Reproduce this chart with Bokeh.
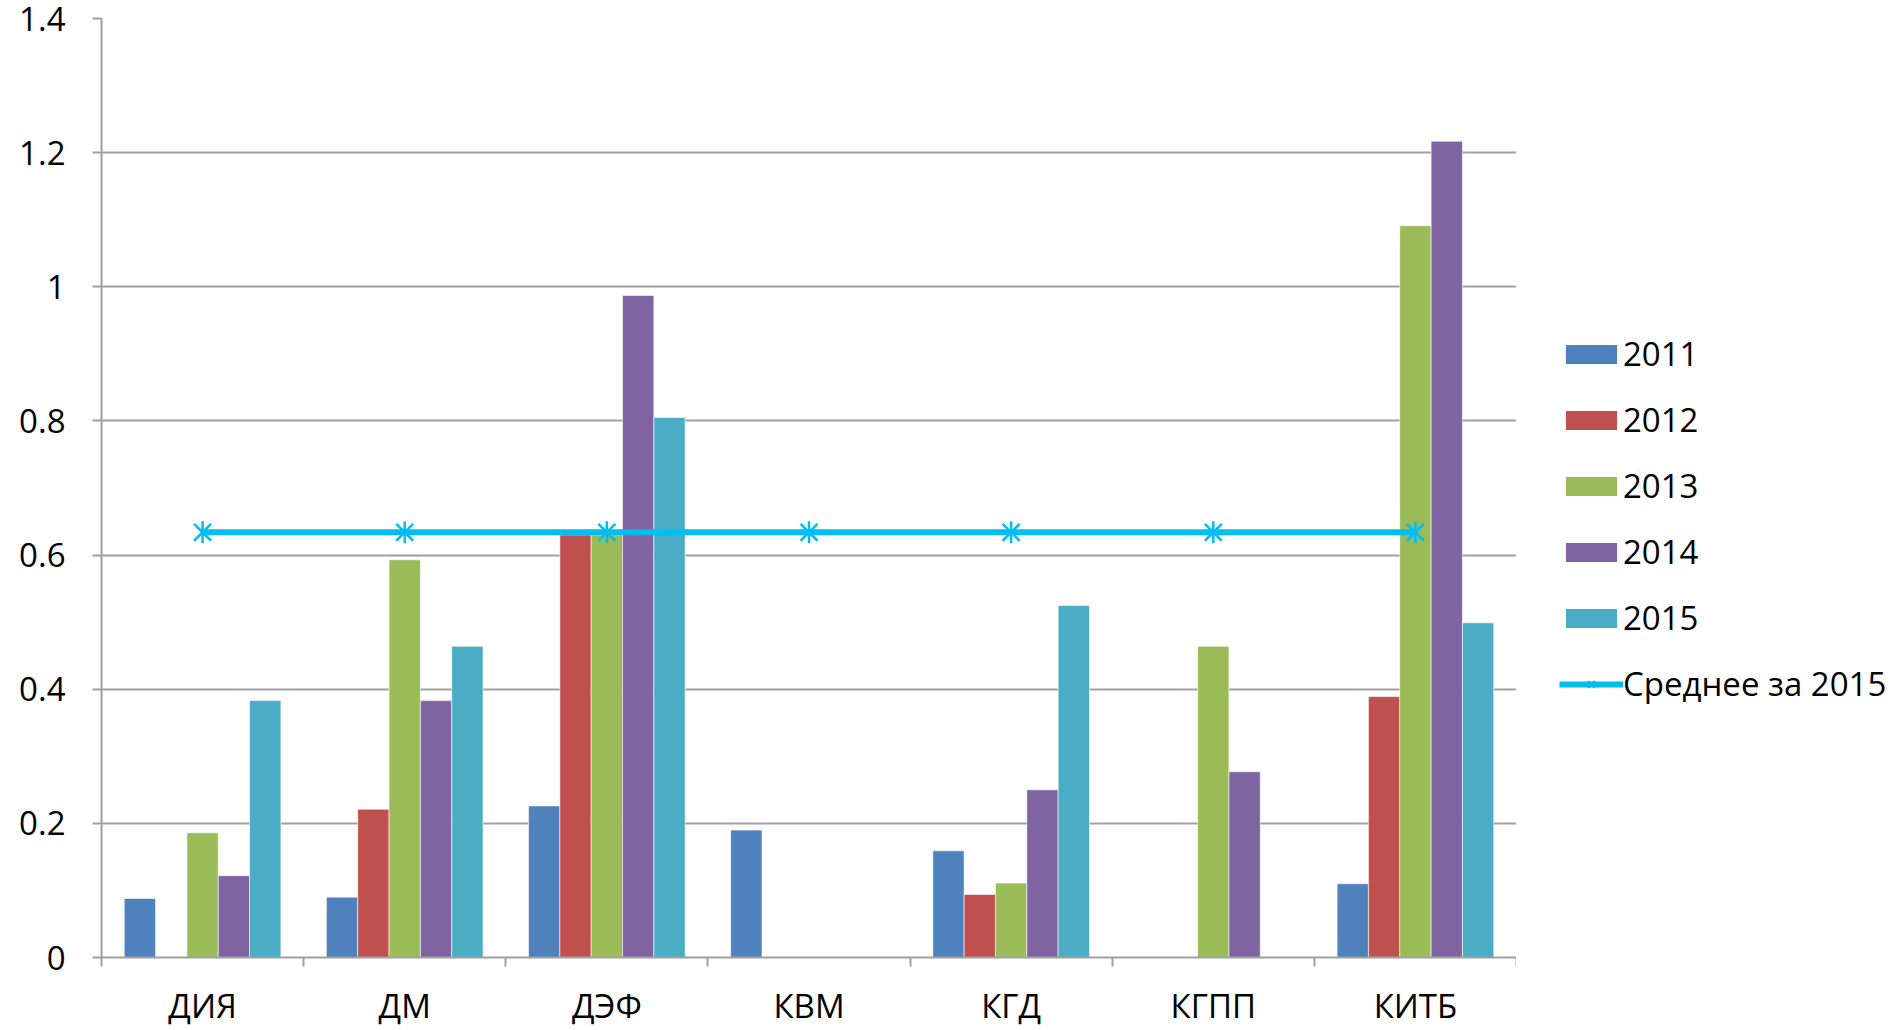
from bokeh.plotting import figure
from bokeh.layouts import row
from bokeh.models import (Range1d, FixedTicker, Legend, LegendItem, ColumnDataSource)
from bokeh.embed import file_html
from bokeh.resources import INLINE

categories = ["ДИЯ", "ДМ", "ДЭФ", "КВМ", "КГД", "КГПП", "КИТБ"]
years = ["2011", "2012", "2013", "2014", "2015"]
v2011 = [0.088, 0.090, 0.226, 0.190, 0.159, 0.0, 0.110]
v2012 = [0.0, 0.221, 0.630, 0.0, 0.094, 0.0, 0.389]
v2013 = [0.186, 0.593, 0.630, 0.0, 0.111, 0.464, 1.091]
v2014 = [0.122, 0.383, 0.987, 0.0, 0.250, 0.277, 1.217]
v2015 = [0.383, 0.464, 0.805, 0.0, 0.525, 0.0, 0.499]
average_2015 = [0.634] * len(categories)
avg_label = "Среднее за 2015"
y_ticks = [0, 0.2, 0.4, 0.6, 0.8, 1.0, 1.2, 1.4]
y_tick_labels = ["0", "0.2", "0.4", "0.6", "0.8", "1", "1.2", "1.4"]

series = [v2011, v2012, v2013, v2014, v2015]
colors = ["#4F81BD", "#C0504D", "#9BBB59", "#8064A2", "#4BACC6"]
line_color = "#00BEF0"
grid_color = "#A0A0A0"
FONT = "Open Sans"
FS = "33px"

p = figure(width=1516, height=1030, output_backend="svg", toolbar_location=None,
           x_range=Range1d(-0.5, len(categories) - 0.5), y_range=Range1d(0, 1.4),
           min_border_left=101, min_border_top=18, min_border_bottom=70, min_border_right=0)
p.outline_line_color = None
p.background_fill_color = "white"

bar_w = 0.155
idx = list(range(len(categories)))
bar_renderers = []
for k, (vals, col) in enumerate(zip(series, colors)):
    xs = [i + (k - 2) * bar_w for i in idx]
    src = ColumnDataSource(dict(x=xs, top=vals))
    r = p.vbar(x="x", top="top", bottom=0, width=bar_w, source=src,
               fill_color=col, line_color="white", line_width=0.6)
    bar_renderers.append(r)

lsrc = ColumnDataSource(dict(x=idx, y=average_2015))
p.line("x", "y", source=lsrc, line_color=line_color, line_width=6)
p.scatter("x", "y", source=lsrc, marker="x", size=24, line_color=line_color, line_width=2.5)
p.scatter("x", "y", source=lsrc, marker="dash", angle=1.5708, size=22,
          line_color=line_color, line_width=2.5)

# grid
p.xgrid.grid_line_color = None
p.ygrid.ticker = FixedTicker(ticks=y_ticks)
p.ygrid.grid_line_color = grid_color
p.ygrid.grid_line_width = 2

# y axis
p.yaxis.ticker = FixedTicker(ticks=y_ticks)
p.yaxis.major_label_overrides = {t: l for t, l in zip(y_ticks, y_tick_labels)}
p.yaxis.axis_line_color = grid_color
p.yaxis.axis_line_width = 2
p.yaxis.major_tick_line_color = grid_color
p.yaxis.major_tick_line_width = 2
p.yaxis.major_tick_out = 9
p.yaxis.major_tick_in = 0
p.yaxis.minor_tick_line_color = None
p.yaxis.major_label_text_font = FONT
p.yaxis.major_label_text_font_size = FS
p.yaxis.major_label_text_color = "black"
p.yaxis.major_label_standoff = 27

# x axis: labels at category centres, ticks at category boundaries
bounds = [i - 0.5 for i in range(len(categories) + 1)]
p.xaxis.ticker = FixedTicker(ticks=idx, minor_ticks=bounds)
p.xaxis.major_label_overrides = {i: c for i, c in enumerate(categories)}
p.xaxis.axis_line_color = grid_color
p.xaxis.axis_line_width = 2
p.xaxis.major_tick_line_color = None
p.xaxis.major_tick_out = 0
p.xaxis.major_tick_in = 0
p.xaxis.minor_tick_line_color = grid_color
p.xaxis.minor_tick_line_width = 2
p.xaxis.minor_tick_out = 9
p.xaxis.minor_tick_in = 0
p.xaxis.major_label_text_font = FONT
p.xaxis.major_label_text_font_size = FS
p.xaxis.major_label_text_color = "black"
p.xaxis.major_label_standoff = 16

# legend panel (separate figure to the right of the plot area)
q = figure(width=379, height=1030, output_backend="svg", toolbar_location=None,
           x_range=Range1d(0, 1), y_range=Range1d(0, 1),
           min_border_left=0, min_border_right=0, min_border_top=0, min_border_bottom=0)
q.axis.visible = False
q.grid.visible = False
q.outline_line_color = None
# off-screen proxy renderers, only used to draw the legend glyphs
proxy_bar = dict(x=[-5.0], top=[0.0])
leg_bars = [q.vbar(x="x", top="top", width=0.1, source=ColumnDataSource(proxy_bar),
                   fill_color=col, line_color=None) for col in colors]
esrc = ColumnDataSource(dict(x=[-5.0, -4.0], y=[0.0, 0.0]))
ql = q.line("x", "y", source=esrc, line_color=line_color, line_width=6)
qm1 = q.scatter("x", "y", source=esrc, marker="x", size=20, line_color=line_color, line_width=2.5)
qm2 = q.scatter("x", "y", source=esrc, marker="dash", angle=1.5708, size=20,
                line_color=line_color, line_width=2.5)

items = [LegendItem(label=y, renderers=[r]) for y, r in zip(years, leg_bars)]
items.append(LegendItem(label=avg_label, renderers=[ql, qm1, qm2]))
legend = Legend(items=items, location=(43, 251), orientation="vertical",
                label_text_font=FONT, label_text_font_size=FS, label_text_color="black",
                glyph_width=64, glyph_height=24, label_standoff=0, label_height=40,
                spacing=21, padding=8, margin=0, border_line_color=None,
                background_fill_alpha=0)
q.add_layout(legend, "center")

layout = row(p, q, spacing=0)
open("out.html", "w").write(file_html(layout, INLINE))
